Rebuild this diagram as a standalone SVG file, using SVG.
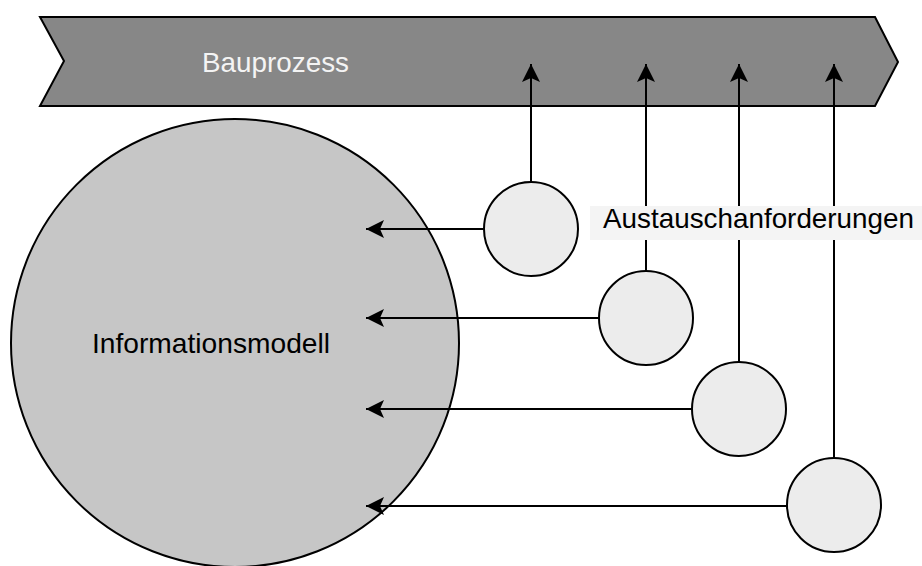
<svg xmlns="http://www.w3.org/2000/svg" width="922" height="566" viewBox="0 0 922 566">
<style>
.lbl{font-family:"Liberation Sans",Arial,Helvetica,sans-serif;font-size:28px}
.conn{stroke:#000;stroke-width:2;fill:none;marker-end:url(#ah)}
.ex{fill:#ececec;stroke:#000;stroke-width:2}
</style>
<defs>
<marker id="ah" markerUnits="userSpaceOnUse" markerWidth="19" markerHeight="19" viewBox="0 0 19 18" refX="18" refY="9" orient="auto">
<path d="M0,0 L18,9 L0,18 L4,9 Z" fill="#000"/>
</marker>
</defs>
<rect width="922" height="566" fill="#fff"/>
<g id="bauprozess">
<polygon points="40,17 875,17 898,62 875,106 40,106 64,61" fill="#878787" stroke="#000" stroke-width="2"/>
<text class="lbl" x="202" y="72" fill="#f4f4f4" textLength="147" lengthAdjust="spacingAndGlyphs">Bauprozess</text>
</g>
<g id="informationsmodell">
<circle cx="235" cy="343" r="224" fill="#c6c6c6" stroke="#000" stroke-width="2"/>
<text class="lbl" x="92" y="353" fill="#000" textLength="238" lengthAdjust="spacingAndGlyphs">Informationsmodell</text>
</g>
<g id="connectors">
<line class="conn" x1="531" y1="183" x2="531" y2="64"/>
<line class="conn" x1="646" y1="271" x2="646" y2="64"/>
<line class="conn" x1="739" y1="362" x2="739" y2="64"/>
<line class="conn" x1="834" y1="458" x2="834" y2="64"/>
<line class="conn" x1="484" y1="229" x2="366" y2="229"/>
<line class="conn" x1="599" y1="318" x2="366" y2="318"/>
<line class="conn" x1="692" y1="409" x2="366" y2="409"/>
<line class="conn" x1="787" y1="506" x2="366" y2="506"/>
</g>
<g id="austausch-1"><circle class="ex" cx="531" cy="229" r="47"/></g>
<g id="austausch-2"><circle class="ex" cx="646" cy="318" r="47"/></g>
<g id="austausch-3"><circle class="ex" cx="739" cy="409" r="47"/></g>
<g id="austausch-4"><circle class="ex" cx="834" cy="505" r="47"/></g>
<g id="austauschanforderungen">
<rect x="590" y="206" width="332" height="34" fill="#f4f4f4"/>
<text class="lbl" x="603" y="228" fill="#000" textLength="311" lengthAdjust="spacingAndGlyphs">Austauschanforderungen</text>
</g>
</svg>
